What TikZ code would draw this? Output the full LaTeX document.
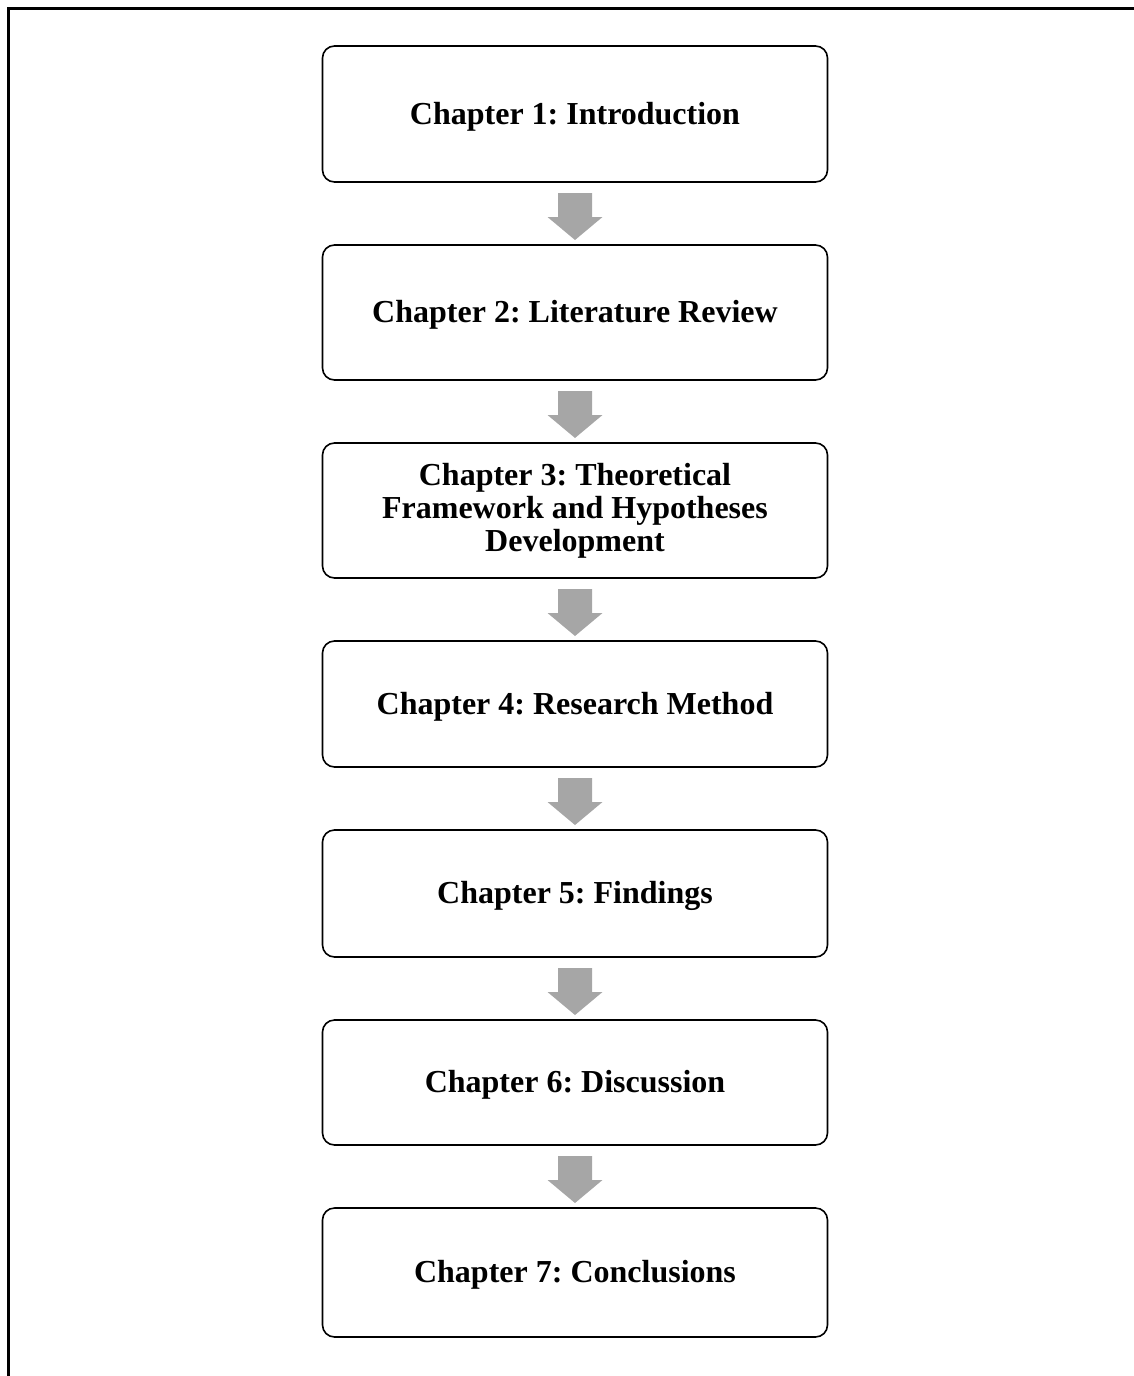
\documentclass[tikz,border=0pt]{standalone}
\usepackage{fontspec}
\setmainfont{Liberation Serif}
\usetikzlibrary{calc}

\definecolor{arrowgray}{HTML}{A6A6A6}

\tikzset{
  chapterbox/.style={draw=black, line width=1.6pt, rounded corners=12pt,
    minimum width=505pt, inner sep=0pt, align=center,
    font=\bfseries\fontsize{32}{33}\selectfont,
    execute at begin node={\frenchspacing\rule{0pt}{27.5pt}}},
  downarrow/.pic={
    \fill[arrowgray] (-17,-20.5) -- (17,-20.5) -- (17,3.5) -- (27.5,3.5)
      -- (0,26.5) -- (-27.5,3.5) -- (-17,3.5) -- cycle;
  }
}

\begin{document}
\begin{tikzpicture}[x=1pt,y=-1pt]
  \useasboundingbox (0,0) rectangle (1134,1376);

  % frame along the top and left edges
  \draw[line width=3pt] (8,1376) -- (8,8) -- (1134,8);

  % chapter boxes
  \node[chapterbox, minimum height=136pt] (c1) at (575,114)   {Chapter 1: Introduction};
  \node[chapterbox, minimum height=135pt] (c2) at (575,312.5) {Chapter 2: Literature Review};
  \node[chapterbox, minimum height=135pt] (c3) at (575,510.5) {Chapter 3: Theoretical\\Framework and Hypotheses\\Development};
  \node[chapterbox, minimum height=126pt] (c4) at (575,704)   {Chapter 4: Research Method};
  \node[chapterbox, minimum height=127pt] (c5) at (575,893.5) {Chapter 5: Findings};
  \node[chapterbox, minimum height=125pt] (c6) at (575,1082.5){Chapter 6: Discussion};
  \node[chapterbox, minimum height=129pt] (c7) at (575,1272.5){Chapter 7: Conclusions};

  % block arrows between consecutive chapters
  \foreach \a/\b in {c1/c2, c2/c3, c3/c4, c4/c5, c5/c6, c6/c7}
    \pic at ($(\a.south)!0.5!(\b.north)$) {downarrow};
\end{tikzpicture}
\end{document}
